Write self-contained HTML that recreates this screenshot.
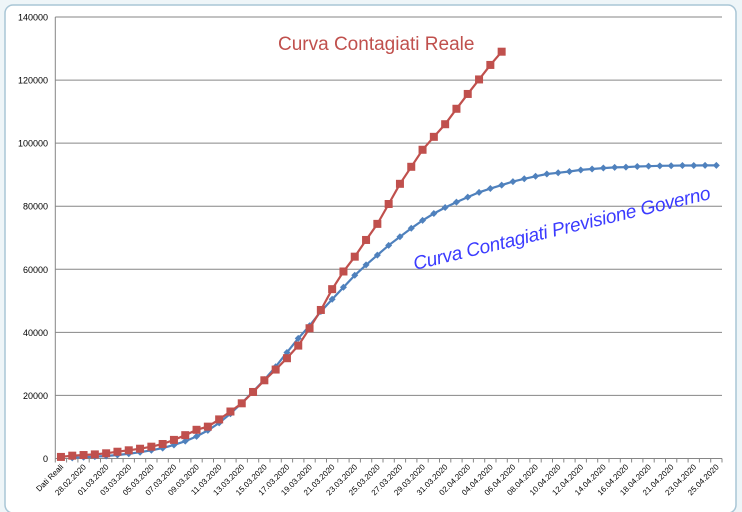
<!DOCTYPE html>
<html><head><meta charset="utf-8"><style>
html,body{margin:0;padding:0;background:#eef5f8;}
svg{display:block;font-family:"Liberation Sans",sans-serif;}
</style></head><body>
<svg id="chart" width="742" height="512" viewBox="0 0 742 512">
<rect x="5" y="5" width="731" height="508" rx="8" fill="#fff" stroke="#a9c6d6" stroke-width="1.5"/>
<g id="grid"></g>
<g id="axes"></g>
<g id="series"></g>
<text x="278" y="50" fill="#c0504d" font-size="19" font-family="'Comic Sans MS','Liberation Sans',sans-serif">Curva Contagiati Reale</text>
<text x="0" y="0" transform="translate(415,270) rotate(-13.5)" fill="#3b3bff" font-size="19" font-style="italic" font-family="'Comic Sans MS','Liberation Sans',sans-serif" textLength="305">Curva Contagiati Previsione Governo</text>
</svg>
<script>
const categories = ["Dati Reali","27.02.2020","28.02.2020","29.02.2020","01.03.2020","02.03.2020","03.03.2020","04.03.2020","05.03.2020","06.03.2020","07.03.2020","08.03.2020","09.03.2020","10.03.2020","11.03.2020","12.03.2020","13.03.2020","14.03.2020","15.03.2020","16.03.2020","17.03.2020","18.03.2020","19.03.2020","20.03.2020","21.03.2020","22.03.2020","23.03.2020","24.03.2020","25.03.2020","26.03.2020","27.03.2020","28.03.2020","29.03.2020","30.03.2020","31.03.2020","01.04.2020","02.04.2020","03.04.2020","04.04.2020","05.04.2020","06.04.2020","07.04.2020","08.04.2020","09.04.2020","10.04.2020","11.04.2020","12.04.2020","13.04.2020","14.04.2020","15.04.2020","16.04.2020","17.04.2020","18.04.2020","20.04.2020","21.04.2020","22.04.2020","23.04.2020","24.04.2020","25.04.2020"];
const realValues = [500,900,1100,1300,1650,2150,2600,3100,3750,4600,5900,7400,9100,10100,12400,14900,17500,21100,24800,28200,31800,35800,41300,47100,53700,59300,64000,69300,74400,80700,87100,92500,97900,102000,106000,110900,115600,120200,124800,129000];
const forecastValues = [null,200,400,600,800,1100,1500,2000,2600,3300,4300,5500,7000,8900,11300,14200,17600,21200,25000,29100,33600,38100,42100,46600,50500,54300,58100,61400,64500,67600,70300,73000,75500,77700,79600,81300,82900,84400,85600,86700,87800,88700,89500,90200,90600,91000,91500,91800,92100,92300,92400,92600,92700,92800,92850,92900,92900,92950,92950];
const yTicks = [0,20000,40000,60000,80000,100000,120000,140000];

const NS="http://www.w3.org/2000/svg";
const L=55.3,R=722,T=17,B=458.5,YMAX=140000;
const step=(R-L)/categories.length;
const xs=i=>L+step*(i+0.5);
const ys=v=>B-(v/YMAX)*(B-T);
function mk(tag,attrs,parent){const e=document.createElementNS(NS,tag);for(const k in attrs)e.setAttribute(k,attrs[k]);parent.appendChild(e);return e;}
const grid=document.getElementById('grid'),axes=document.getElementById('axes'),ser=document.getElementById('series');
yTicks.forEach(v=>{
  if(v>0){const g=mk('line',{x1:L,x2:R,y1:ys(v),y2:ys(v),stroke:'#868686','stroke-width':1},grid);
  
  }
  const t=mk('text',{x:48,y:ys(v)+3.5,'text-anchor':'end','font-size':9,fill:'#000'},axes);
  t.textContent=v;
  
  
});
const ya=mk('line',{x1:L,x2:L,y1:T,y2:B,stroke:'#868686'},axes);


const xa=mk('line',{x1:L,x2:R,y1:B,y2:B,stroke:'#868686'},axes);


for(let i=0;i<=categories.length;i++){
  const tk=mk('line',{x1:L+step*i,x2:L+step*i,y1:B,y2:B+4,stroke:'#868686'},axes);
  
  
}
categories.forEach((c,i)=>{
  if(i%2)return;
  const x=xs(i)+3,y=B+9;
  const t=mk('text',{x:x,y:y,'text-anchor':'end','font-size':8,fill:'#000',transform:`rotate(-45 ${x} ${y})`},axes);
  t.textContent=c;
  
  
});
function line(vals,color,name){
  const pts=[];vals.forEach((v,i)=>{if(v!=null)pts.push(xs(i).toFixed(1)+','+ys(v).toFixed(1));});
  const p=mk('polyline',{points:pts.join(' '),fill:'none',stroke:color,'stroke-width':2.2},ser);
  
  
}
line(forecastValues,'#4f81bd','forecast');
forecastValues.forEach((v,i)=>{if(v==null)return;
  const x=xs(i),y=ys(v);
  const m=mk('polygon',{points:`${x},${y-3.5} ${x+3.5},${y} ${x},${y+3.5} ${x-3.5},${y}`,fill:'#4f81bd'},ser);
  
  
});
line(realValues,'#c0504d','real');
realValues.forEach((v,i)=>{
  const m=mk('rect',{x:xs(i)-4,y:ys(v)-4,width:8,height:8,fill:'#c0504d'},ser);
  
  
});
</script>
</body></html>
